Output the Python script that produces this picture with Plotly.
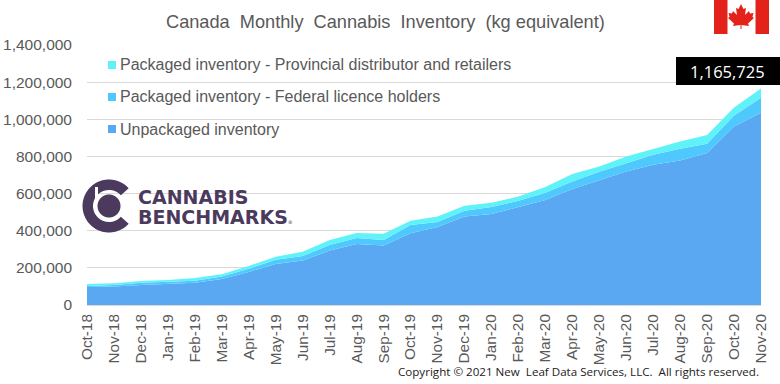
import math
import plotly.graph_objects as go

months = ["Oct-18","Nov-18","Dec-18","Jan-19","Feb-19","Mar-19","Apr-19","May-19","Jun-19","Jul-19","Aug-19","Sep-19",
          "Oct-19","Nov-19","Dec-19","Jan-20","Feb-20","Mar-20","Apr-20","May-20","Jun-20","Jul-20","Aug-20","Sep-20","Oct-20","Nov-20"]
unpackaged = [97000,99000,108000,113000,120000,140000,178000,221000,239000,293000,329000,320000,
              386000,420000,476000,490000,528000,566000,625000,674000,719000,755000,778000,819000,961000,1035000]
federal = [5000,9000,12000,12000,11000,13000,17000,22000,25000,30000,32000,30000,
           45000,27000,32000,38000,33000,39000,40000,43000,46000,54000,63000,49000,60000,81000]
provincial = [11000,9000,9000,9000,14000,13000,15000,17000,23000,27000,27000,33000,
              23000,29000,26000,23000,23000,31000,41000,29000,35000,32000,40000,48000,43000,49725]
y_ticks = [0,200000,400000,600000,800000,1000000,1200000,1400000]
series_names = ["Unpackaged inventory","Packaged inventory - Federal licence holders",
                "Packaged inventory - Provincial distributor and retailers"]
series_colors = ["#5BA8F2","#4FC9FD","#5FF3F9"]
title_text = "Canada\u00a0 Monthly\u00a0 Cannabis\u00a0 Inventory\u00a0 (kg equivalent)"
copyright_text = "Copyright © 2021 New\u00a0 Leaf Data Services, LLC.\u00a0 All rights reserved."
callout_text = "1,165,725"

W, H = 780, 384
L, R, T, B = 87, 19, 45, 79
PW, PH = W-L-R, H-T-B
def fx(p): return (p-L)/PW
def fy(p): return (H-B-p)/PH

fig = go.Figure()
for name, vals, col in zip(series_names, [unpackaged, federal, provincial], series_colors):
    fig.add_trace(go.Scatter(x=months, y=vals, name=name, mode="lines", stackgroup="one",
                             line=dict(width=0, color=col), fillcolor=col, showlegend=False))

shapes, annots = [], []
def rect(x0,y0,x1,y1,c):
    shapes.append(dict(type="rect", xref="paper", yref="paper", x0=fx(x0), x1=fx(x1), y0=fy(y0), y1=fy(y1),
                       fillcolor=c, line=dict(width=0), layer="above"))
def poly(pts,c):
    d = "M" + " L".join(f"{fx(a):.5f},{fy(b):.5f}" for a,b in pts) + " Z"
    shapes.append(dict(type="path", xref="paper", yref="paper", path=d, fillcolor=c, line=dict(width=0), layer="above"))
def text(x,y,s,size,color,family="Liberation Sans",anchor="left",**kw):
    annots.append(dict(xref="paper", yref="paper", x=fx(x), y=fy(y), text=s, showarrow=False, xanchor=anchor,
                       yanchor="middle", font=dict(size=size,color=color,family=family), **kw))

# legend
for yy, name, col in zip([129,97,65], series_names, series_colors):
    rect(108,yy-4,116,yy+4,col)
    text(118,yy,name,16,"#595959")

# logo
PUR = "#4B3A5E"
cx, cy = 109, 206
def ring(r0,r1,a0,a1,n=60):
    o=[(cx+r1*math.cos(math.radians(a0+(a1-a0)*i/n)),cy+r1*math.sin(math.radians(a0+(a1-a0)*i/n))) for i in range(n+1)]
    i_=[(cx+r0*math.cos(math.radians(a1-(a1-a0)*i/n)),cy+r0*math.sin(math.radians(a1-(a1-a0)*i/n))) for i in range(n+1)]
    return o+i_
poly(ring(16,26.5,42,318),PUR)
poly(ring(0,11.5,0,360),PUR)
rect(95,187,98,198,"#FFFFFF")
text(136,197,"<b>CANNABIS</b>",19,PUR,family="DejaVu Sans")
text(136,217,"<b>BENCHMARKS</b><span style='font-size:5px'>®</span>",19,PUR,family="DejaVu Sans")

# flag
rect(714,0,769,34,"#FFFFFF")
rect(714,0,727.5,34,"#E3231B")
rect(755.5,0,769,34,"#E3231B")
leaf = [(741,4),(743.5,9),(746,8),(745,15),(749,11),(750,13.5),(753.5,13),(752.5,17),(754,18),(748,23.5),(749,26),
        (741.5,25),(741.5,29),(740.5,29),(740.5,25),(733,26),(734,23.5),(728,18),(729.5,17),(728.5,13),(732,13.5),(733,11),(737,15),(736,8),(738.5,9)]
poly(leaf,"#E3231B")

# callout
rect(676,57,780,85,"#000000")
text(727,71.5,callout_text,16.5,"#FFFFFF",family="Open Sans",anchor="center")

text(385,21.5,title_text,18.2,"#595959",anchor="center")
text(396,371.5,copyright_text,11.6,"#222222",family="Open Sans")

fig.update_layout(
    width=W, height=H, margin=dict(l=L,r=R,t=T,b=B,pad=0,autoexpand=False), paper_bgcolor="white", plot_bgcolor="white",
    showlegend=False, shapes=shapes, annotations=annots,
    xaxis=dict(type="category", range=[0,25], tickangle=-90, ticks="", showgrid=False, showline=True, linecolor="#D9D9D9",
               linewidth=1, tickfont=dict(size=15.3,color="#595959",family="Liberation Sans"), ticklabelstandoff=2,
               categoryorder="array", categoryarray=months, tickmode="array", tickvals=months, ticktext=months),
    yaxis=dict(range=[0,1400000], tickvals=y_ticks, tickformat=",d", showgrid=True, gridcolor="#D9D9D9", gridwidth=1,
               zeroline=False, ticks="", tickfont=dict(size=15.5,color="#595959",family="Liberation Sans"), ticklabelstandoff=14),
)
fig.write_html("out.html", config={"displayModeBar": False},
               post_script="document.body.style.margin='0';document.body.style.overflow='hidden';")
